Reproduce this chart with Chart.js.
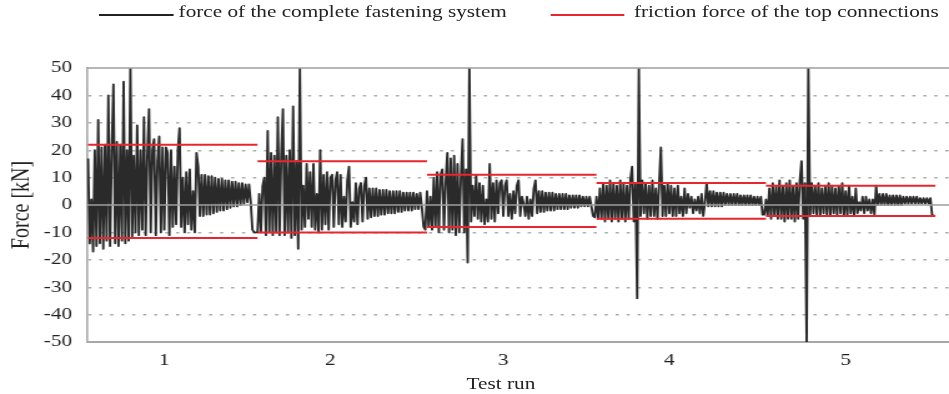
<!DOCTYPE html>
<html>
<head>
<meta charset="utf-8">
<script src="https://cdn.jsdelivr.net/npm/chart.js@4.4.1/dist/chart.umd.min.js"></script>
<style>
html,body{margin:0;padding:0;background:#fff;overflow:hidden;}
#stage{position:absolute;left:0;top:0;width:760px;height:394px;transform:scaleX(1.248684);transform-origin:0 0;}
#chart{position:absolute;left:0;top:0;}
.lg-line{position:absolute;height:2.5px;}
.lg-text,.axis-title{position:absolute;font-family:'Liberation Serif','Times New Roman',serif;font-size:17px;line-height:17px;color:#222;white-space:nowrap;}
</style>
</head>
<body>
<div id="stage">
  <canvas id="chart" width="760" height="394"></canvas>
  <div class="lg-line" style="left:79px;top:13.5px;width:60px;background:#222;"></div>
  <div class="lg-text" style="left:143px;top:2.5px;">force of the complete fastening system</div>
  <div class="lg-line" style="left:441.3px;top:13.5px;width:59.2px;background:#e8262e;"></div>
  <div class="lg-text" style="left:507.7px;top:2.5px;">friction force of the top connections</div>
  <div class="axis-title" style="left:301.2px;width:200px;text-align:center;top:375px;">Test run</div>
</div>
<script>
// Force of the complete fastening system [kN], 100 samples per test run
const run1 = [
  17, -14, 2, -17, 20, -15, 31, -14, 21, -16,
  22, -13, 40, -15, 20, 44, -14, 23, -15, 22,
  -13, 45, -14, 20, -13, 50, -12, 18, -10, 29,
  -11, 20, -9, 32, -11, 18, 35, -10, 20, 24,
  -11, 16, 25, -10, 21, -9, 21, 19, -11, 20,
  -8, 14, -7, 20, 28, -8, 10, -10, 12, -7,
  13, -9, 5, -10, 19, 14, -4, 11,
  -4, 11, -3.5, 10.5, -3.5, 10.5, -3, 10, -2.5, 9.5, -2, 9.5, -2, 9, -1.5, 9,
  -1, 8.5, -0.5, 8.5, -0.5, 8, 0, 8, 0.5, 7.5, 1, 7.5, 1,
  -9, -10, -10
];
const run2 = [
  -10, 4, -10, 7, 10, -11, 27, -10, 19, -11,
  18, -10, 32, -11, 18, 35, -11, 18, -10, 20,
  -12, 36, -11, 16, -16, 50, -9, 7, -8, 15,
  -5, 12, -8, 15, -9, 4, -10, 20, -9, 11,
  -7, 12, -9, 10, 11, -8, 9, 12, -7, 11,
  -8, 3, -6, 9, 14, -8, 1, -6, 8, -7,
  6, 8, -6, 7, 10, -5,
  6, -4.5, 6, -4, 6, -4, 5.5, -3.5, 5.5, -3.5, 5.5, -3, 5, -3, 5, -3,
  5, -2.5, 5, -2.5, 4.5, -2, 4.5, -2, 4.5, -2, 4.5, -1.5, 4, -1.5, 4.5, -1,
  -8, -9
];
const run3 = [
  5, -8, 3, -9, 10, -8, 12, -10, 11, 13,
  -9, 8, 19, -10, 17, -9, 18, -11, 15, -10,
  10, 24, -10, 13, -21, 50, -6, 7, -4, 11,
  -5, 8, -6, 7, -7, 2, -6, 15, -5, 8,
  -6, 9, -3, 8, 9, -4, 7, 9, -4, 4,
  -5, 5, -3, 7, 9, -4, 3, 0.5, -4, 3,
  -5, 2, -4, 6, 9, -3,
  5, -2.5, 5, -2.5, 4.5, -2, 4.5, -2, 4.5, -2, 4, -1.5, 4, -1.5, 4, -1.5,
  4, -1.5, 3.5, -1, 3.5, -1, 3.5, -1, 3.5, -0.5, 3, -0.5, 3, -0.5, 3, -0.5,
  -4, -4.5
];
const run4 = [
  3, -5, 6, -5, 8, -6, 7, -5, 9, -6,
  8, -5, 7, -6, 9, -5, 8, -6, 7, -5,
  9, 14, -6, 8, -34, 50, -4, 9, -3, 8,
  -5, 7, -4, 9, -4, 6, -5, 8, 21, -4,
  7, -4, 8, -3, 7, -4, 6, -4, 7, -3,
  3, -4, 6, -3, 4, -1, 3, -3, 2, -2,
  3, -3, 4, -4, 1, 8,
  -0.5, 5, -0.5, 5, -0.5, 4.5, -0.5, 4.5, -0.5, 4.5, 0, 4, 0, 4, 0, 4,
  0, 4, 0, 3.5, 0, 3.5, 0, 3.5, 0, 3.5, 0, 3, 0, 3, 0, 3,
  -3.5, -3.5
];
const run5 = [
  2, -4, 6, -5, 8, -4, 7, -5, 9, -5,
  7, -6, 8, -5, 9, -5, 7, -6, 8, -5,
  9, 16, -5, 8, -50, 50, -4, 8, -3, 7,
  -4, 8, -4, 6, -3, 7, -4, 8, -4, 7,
  -3, 6, -4, 7, -3, 8, -4, 5, -4, 7,
  -3, 3, -4, 6, -3, 1, -2, 3, -3, 3,
  -2, 2, -3, 2, -3.5, 7,
  0, 4, 0, 4, 0, 4, 0, 3.5, 0, 3.5, 0, 3.5, 0, 3.5, 0, 3,
  0.5, 3, 0.5, 3, 0.5, 3, 0.5, 3, 0.5, 2.5, 0.5, 2.5, 0.5, 2.5, 0.5, 2.5,
  -3.5, -4
];
const forceRuns = [run1, run2, run3, run4, run5];
// Friction force of the top connections [kN], per run
const frictionTop = [22, 16, 11, 8, 7];
const frictionBottom = [-12, -10, -8, -5, -4];
// Test run labels and the sample at which each label sits
const runLabels = ['1', '2', '3', '4', '5'];
const runLabelSample = [45, 143, 245, 343, 447];
const SAMPLES_PER_RUN = 100;

const forcePoints = forceRuns.flatMap((run, r) =>
  run.map((v, j) => ({x: r * SAMPLES_PER_RUN + j, y: v})));

function frictionPoints(levels) {
  const pts = [];
  levels.forEach((v, r) => {
    pts.push({x: r * SAMPLES_PER_RUN, y: v}, {x: (r + 1) * SAMPLES_PER_RUN, y: v});
    if (r < levels.length - 1) pts.push({x: (r + 1) * SAMPLES_PER_RUN, y: null});
  });
  return pts;
}

const solidLines = {
  id: 'solidLines',
  afterDatasetsDraw(chart) {
    const {ctx, chartArea: a, scales: {y}} = chart;
    ctx.save();
    ctx.strokeStyle = '#9e9e9e';
    ctx.lineWidth = 1.6;
    [0, 50].forEach(v => {
      const py = y.getPixelForValue(v);
      ctx.beginPath();
      ctx.moveTo(a.left, py);
      ctx.lineTo(a.right, py);
      ctx.stroke();
    });
    ctx.restore();
  }
};

Chart.defaults.font.family = "'Liberation Serif','Times New Roman',serif";
Chart.defaults.color = '#222';

new Chart(document.getElementById('chart'), {
  type: 'line',
  data: {
    datasets: [
      {label: 'friction force of the top connections', data: frictionPoints(frictionTop),
       borderColor: '#e8262e', borderWidth: 2, pointRadius: 0, spanGaps: false, order: 0},
      {label: 'friction force (bottom)', data: frictionPoints(frictionBottom),
       borderColor: '#e8262e', borderWidth: 2, pointRadius: 0, spanGaps: false, order: 0},
      {label: 'force of the complete fastening system', data: forcePoints,
       borderColor: '#2a2a2a', borderWidth: 1.9, borderJoinStyle: 'round', pointRadius: 0, tension: 0, order: 1}
    ]
  },
  options: {
    responsive: false,
    animation: false,
    devicePixelRatio: 1,
    events: [],
    layout: {padding: {top: 68, left: 0, right: 0, bottom: 0}},
    plugins: {legend: {display: false}, tooltip: {enabled: false}},
    scales: {
      x: {
        type: 'linear', min: -0.6, max: 508,
        grid: {display: false, drawTicks: false},
        border: {display: true, color: '#a8a8a8', width: 2},
        ticks: {autoSkip: false, maxRotation: 0, padding: 8, font: {size: 17}, color: '#222',
                callback: (v, i) => runLabels[i]},
        afterBuildTicks: s => { s.ticks = runLabelSample.map(v => ({value: v})); },
        afterFit: s => { s.height = 52; }
      },
      y: {
        min: -50, max: 50,
        ticks: {stepSize: 10, padding: 12, font: {size: 17}, color: '#222'},
        grid: {drawTicks: false, lineWidth: 1.4,
               color: c => (c.tick && (c.tick.value === 0 || Math.abs(c.tick.value) === 50)) ? 'rgba(0,0,0,0)' : '#ababab'},
        border: {display: true, color: '#a8a8a8', width: 1.6, dash: [2.6, 6.2]},
        title: {display: true, text: 'Force [kN]', font: {size: 20}, color: '#222', padding: {top: 6, bottom: 0}},
        afterFit: s => { s.width = 69.67; }
      }
    }
  },
  plugins: [solidLines]
});
</script>
</body>
</html>
